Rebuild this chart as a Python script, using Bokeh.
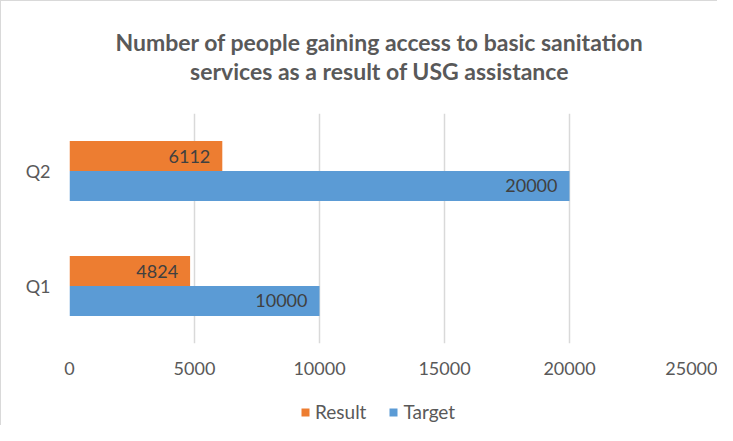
from bokeh.plotting import figure
from bokeh.layouts import column
from bokeh.models import (ColumnDataSource, FactorRange, Range1d, Label, Legend, LegendItem,
                          FixedTicker)
from bokeh.transform import dodge
from bokeh.core.properties import value
from bokeh.embed import file_html
from bokeh.resources import INLINE

quarters = ["Q1", "Q2"]
result = [4824, 6112]
target = [10000, 20000]
series_names = ["Result", "Target"]
x_ticks = [0, 5000, 10000, 15000, 20000, 25000]
title_lines = ["Number of people gaining access to basic sanitation",
               "services as a result of USG assistance"]

ORANGE = "#ED7D31"
BLUE = "#5B9BD5"
TXT = "#595959"
FONT = "Lato"
W = 716


def blank_fig(h):
    f = figure(width=W, height=h, output_backend="svg", toolbar_location=None,
               x_range=Range1d(0, 1), y_range=Range1d(0, 1),
               x_axis_location=None, y_axis_location=None,
               min_border=0, min_border_left=0, min_border_right=0,
               min_border_top=0, min_border_bottom=0)
    f.grid.visible = False
    f.outline_line_color = None
    return f


# ---- title (frames of the column are aligned with the main chart's frame) ----
tf = blank_fig(100)
for txt, ys in zip(title_lines, [60, 31]):
    tf.add_layout(Label(x=310, y=ys, x_units="screen", y_units="screen", text=txt,
                        text_align="center", text_baseline="middle", text_font=FONT,
                        text_font_size="23px", text_font_style="bold", text_color=TXT))

# ---- main chart ----
src = ColumnDataSource(dict(q=quarters, result=result, target=target,
                            rlab=[str(v) for v in result], tlab=[str(v) for v in target]))

p = figure(width=W, height=292, output_backend="svg", toolbar_location=None,
           y_range=FactorRange(factors=quarters), x_range=Range1d(0, 25000),
           min_border_left=68, min_border_right=23, min_border_top=12, min_border_bottom=50)

bh = 0.26
r1 = p.hbar(y=dodge("q", bh / 2, range=p.y_range), right="result", left=0, height=bh,
            source=src, fill_color=ORANGE, line_color=None)
r2 = p.hbar(y=dodge("q", -bh / 2, range=p.y_range), right="target", left=0, height=bh,
            source=src, fill_color=BLUE, line_color=None)

p.text(x="result", y=dodge("q", bh / 2, range=p.y_range), text="rlab", source=src,
       text_align="right", text_baseline="middle", x_offset=-12,
       text_font=value(FONT), text_font_size="18px", text_color="#404040")
p.text(x="target", y=dodge("q", -bh / 2, range=p.y_range), text="tlab", source=src,
       text_align="right", text_baseline="middle", x_offset=-12,
       text_font=value(FONT), text_font_size="18px", text_color="#404040")

p.xaxis.ticker = FixedTicker(ticks=x_ticks)
p.xaxis.axis_line_color = None
p.xaxis.major_tick_line_color = None
p.xaxis.minor_tick_line_color = None
p.xaxis.major_label_standoff = 12
p.xaxis.major_label_text_font = FONT
p.xaxis.major_label_text_font_size = "18px"
p.xaxis.major_label_text_color = TXT

p.yaxis.axis_line_color = None
p.yaxis.major_tick_line_color = None
p.yaxis.major_label_standoff = 13
p.yaxis.major_label_text_font = FONT
p.yaxis.major_label_text_font_size = "18px"
p.yaxis.major_label_text_color = TXT

p.xgrid.grid_line_color = "#D9D9D9"
p.xgrid.grid_line_width = 1.5
p.ygrid.grid_line_color = None
p.outline_line_color = None

# ---- legend (proxy glyphs kept outside the visible range) ----
lf = blank_fig(32)
proxy = ColumnDataSource(dict(y=[-10], right=[1]))
lr1 = lf.hbar(y="y", right="right", height=0.5, source=proxy, fill_color=ORANGE, line_color=None)
lr2 = lf.hbar(y="y", right="right", height=0.5, source=proxy, fill_color=BLUE, line_color=None)
legend = Legend(items=[LegendItem(label=series_names[0], renderers=[lr1]),
                       LegendItem(label=series_names[1], renderers=[lr2])],
                orientation="horizontal", location=(231, 2),
                label_text_font=FONT, label_text_font_size="19px", label_text_color=TXT,
                glyph_width=10, glyph_height=10, spacing=22, label_standoff=5,
                border_line_color=None, background_fill_alpha=0, margin=0, padding=2)
lf.add_layout(legend)

layout = column(tf, p, lf, spacing=0,
                styles={"border-left": "1px solid #d9d9d9", "border-top": "1px solid #d9d9d9"})

open("out.html", "w").write(file_html(layout, INLINE))
